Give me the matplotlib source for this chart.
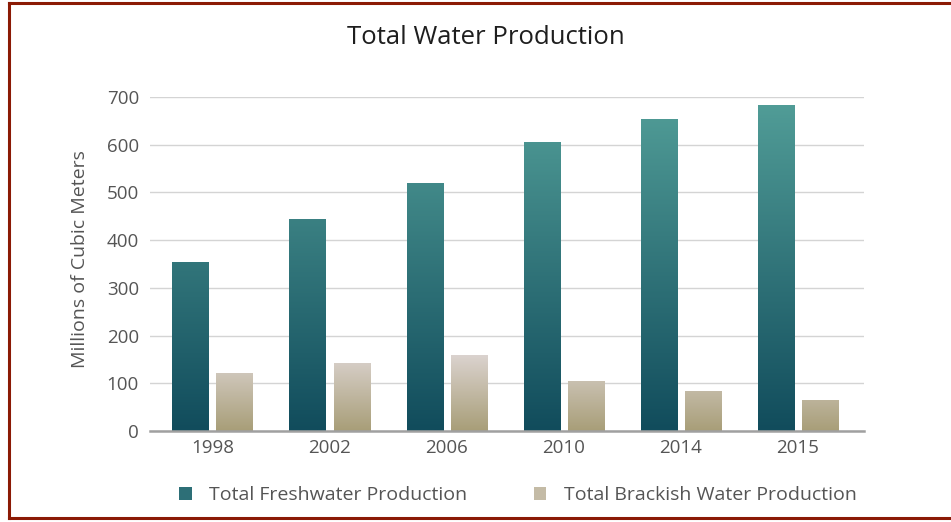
import numpy as np
import matplotlib
matplotlib.use("Agg")
import matplotlib.pyplot as plt
from matplotlib.colors import LinearSegmentedColormap
from matplotlib.lines import Line2D
from matplotlib.patches import Patch

years = ["1998", "2002", "2006", "2010", "2014", "2015"]
fresh = [355, 444, 519, 605, 653, 683]
brackish = [121, 143, 159, 105, 84, 65]
yticks = [0, 100, 200, 300, 400, 500, 600, 700]

plt.rcParams['font.family'] = ['Open Sans', 'DejaVu Sans']

fig = plt.figure(figsize=(9.51, 5.22), dpi=100)
ax = fig.add_axes([150/951, 1-431/522, (864-150)/951, (431-97)/522])

fresh_cmap = LinearSegmentedColormap.from_list("fresh", ["#114c5c", "#529e98"])
brack_cmap = LinearSegmentedColormap.from_list("brack", ["#a89e78", "#dbd3cf"])

x = np.arange(len(years))
w = 0.308
off = 0.188

ax.set_ylim(0, 700)
ax.set_xlim(-0.534, 5.567)

ax.yaxis.grid(True, color="#d4d4d4", linewidth=1.0)
ax.set_axisbelow(True)

bf = ax.bar(x - off, fresh, width=w, color="none", edgecolor="none", zorder=2)
bb = ax.bar(x + off, brackish, width=w, color="none", edgecolor="none", zorder=2)

def grad_fill(bars, cmap, ref):
    for rect in bars:
        x0 = rect.get_x()
        x1 = x0 + rect.get_width()
        h = rect.get_height()
        vals = np.linspace(0, h, 200)[::-1].reshape(-1, 1) / ref
        im = ax.imshow(vals, cmap=cmap, vmin=0, vmax=1, extent=[x0, x1, 0, h],
                       aspect="auto", zorder=2, interpolation="bilinear")
        im.set_clip_path(rect)

grad_fill(bf, fresh_cmap, 700)
grad_fill(bb, brack_cmap, 160)
ax.set_xlim(-0.534, 5.567)
ax.set_ylim(0, 700)

for s in ["top", "right", "left"]:
    ax.spines[s].set_visible(False)
ax.spines["bottom"].set_color("#a0a0a0")
ax.spines["bottom"].set_linewidth(1.8)
ax.spines["bottom"].set_zorder(3)

ax.set_xticks(x)
ax.set_xticklabels(years)
ax.set_yticks(yticks)
ax.tick_params(axis="both", length=0, labelsize=13.5, labelcolor="#555555")
ax.tick_params(axis="y", pad=8)
ax.tick_params(axis="x", pad=6)

ax.set_ylabel("Millions of Cubic Meters", fontsize=14, color="#555555")
ax.yaxis.set_label_coords(-0.086, 0.515)

fig.text(486/951, 1-38/522, "Total Water Production", ha="center", va="center",
         fontsize=18.5, color="#1e1e1e")

handles = [Patch(facecolor="#2d6f77", edgecolor="none"),
           Patch(facecolor="#c4bba6", edgecolor="none")]
fig.legend(handles, ["Total Freshwater Production", "Total Brackish Water Production"],
           loc="center", bbox_to_anchor=(518/951, 1-495/522), ncol=2, frameon=False,
           fontsize=14, labelcolor="#555555", handlelength=0.65, handleheight=0.65,
           columnspacing=3.4, handletextpad=0.9)

border = "#8b1a05"
fig.add_artist(Line2D([8.5/951, 8.5/951], [1-2.5/522, 1-517.5/522], color=border, lw=2.2, transform=fig.transFigure))
fig.add_artist(Line2D([8.5/951, 1.0], [1-2.5/522, 1-2.5/522], color=border, lw=2.2, transform=fig.transFigure))
fig.add_artist(Line2D([8.5/951, 1.0], [1-517.5/522, 1-517.5/522], color=border, lw=2.2, transform=fig.transFigure))

fig.savefig("out.png", dpi=100)
